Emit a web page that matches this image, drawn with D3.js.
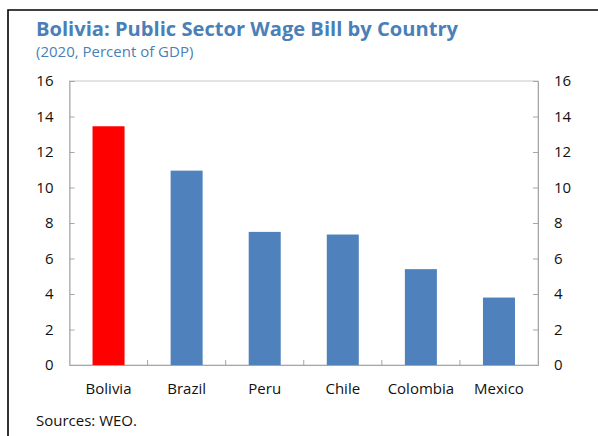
<!DOCTYPE html>
<html>
<head>
<meta charset="utf-8">
<script src="https://cdn.jsdelivr.net/npm/d3@7"></script>
<style>
  body { margin: 0; background: #fff; }
  text { font-family: "Open Sans", "Noto Sans", sans-serif; }
</style>
</head>
<body>
<div id="chart-area"></div>
<script>
// data
var countries = ["Bolivia", "Brazil", "Peru", "Chile", "Colombia", "Mexico"];
var wageBill = [13.45, 10.95, 7.5, 7.35, 5.4, 3.8];
var yTicks = [0, 2, 4, 6, 8, 10, 12, 14, 16];

var width = 598,
	height = 436;

var plot = {left: 69.5, right: 538, top: 81, bottom: 365};

var svg = d3.select("#chart-area").append("svg")
	.attr("width", width)
	.attr("height", height);

// outer frame (only left/top visible in the picture)
svg.append("path")
	.attr("d", "M8,440 L8,10 L602,10")
	.attr("fill", "none")
	.attr("stroke", "#000")
	.attr("stroke-width", 1.6);

// title + subtitle
svg.append("text")
	.attr("x", 36)
	.attr("y", 36)
	.attr("fill", "#4a7fb8")
	.attr("font-size", 20)
	.attr("font-weight", "bold")
	.attr("textLength", 422)
	.attr("lengthAdjust", "spacingAndGlyphs")
	.text("Bolivia: Public Sector Wage Bill by Country");

svg.append("text")
	.attr("x", 36)
	.attr("y", 57)
	.attr("fill", "#4a7fb8")
	.attr("font-size", 15)
	.text("(2020, Percent of GDP)");

// scales
var xScale = d3.scaleBand()
	.domain(countries)
	.range([plot.left, plot.right]);

var yScale = d3.scaleLinear()
	.domain([0, 16])
	.range([plot.bottom, plot.top]);

var barW = xScale.bandwidth() * 0.41;

// plot box
svg.append("rect")
	.attr("x", plot.left)
	.attr("y", plot.top)
	.attr("width", plot.right - plot.left)
	.attr("height", plot.bottom - plot.top)
	.attr("fill", "none")
	.attr("stroke", "#c8c8c8")
	.attr("stroke-width", 1);

// bars
svg.selectAll("rect.bar")
	.data(countries)
	.enter()
	.append("rect")
	.attr("class", "bar")
	.attr("x", function(d) { return xScale(d) + (xScale.bandwidth() - barW) / 2; })
	.attr("y", function(d, i) { return yScale(wageBill[i]); })
	.attr("width", barW)
	.attr("height", function(d, i) { return yScale(0) - yScale(wageBill[i]); })
	.attr("fill", function(d) { return d === "Bolivia" ? "#ff0000" : "#4f81bd"; });

// axes
var yAxisL = d3.axisLeft(yScale).tickValues(yTicks).tickSize(-5).tickPadding(16);
var yAxisR = d3.axisRight(yScale).tickValues(yTicks).tickSize(-5).tickPadding(16);

function styleAxis(g) {
	g.select(".domain").attr("stroke", "#a6a6a6");
	g.selectAll(".tick line").attr("stroke", "#a6a6a6");
	g.selectAll(".tick text")
		.attr("fill", "#111")
		.attr("font-size", 15)
		.attr("font-family", "'Open Sans', 'Noto Sans', sans-serif");
}

svg.append("g")
	.attr("class", "yAxis")
	.attr("transform", "translate(" + plot.left + ",0)")
	.call(yAxisL)
	.call(styleAxis);

svg.append("g")
	.attr("class", "yAxis")
	.attr("transform", "translate(" + plot.right + ",0)")
	.call(yAxisR)
	.call(styleAxis);

var xAxis = d3.axisBottom(xScale).tickSize(0).tickPadding(18);
svg.append("g")
	.attr("class", "xAxis")
	.attr("transform", "translate(0," + plot.bottom + ")")
	.call(xAxis)
	.call(styleAxis);

// category separator ticks on the x axis
svg.selectAll("line.sep")
	.data(countries.slice(1))
	.enter()
	.append("line")
	.attr("class", "sep")
	.attr("x1", function(d) { return xScale(d); })
	.attr("x2", function(d) { return xScale(d); })
	.attr("y1", plot.bottom)
	.attr("y2", plot.bottom - 5)
	.attr("stroke", "#a6a6a6");

// source note
svg.append("text")
	.attr("x", 36)
	.attr("y", 426)
	.attr("fill", "#111")
	.attr("font-size", 15)
	.text("Sources: WEO.");
</script>
</body>
</html>
